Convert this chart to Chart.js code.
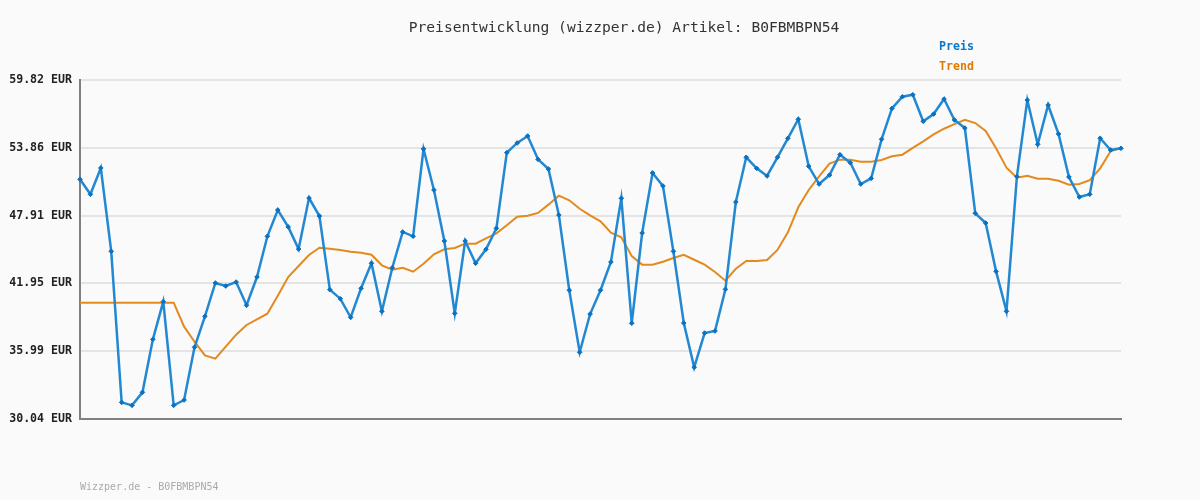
<!DOCTYPE html>
<html>
<head>
<meta charset="utf-8">
<script src="https://cdn.jsdelivr.net/npm/chart.js@4/dist/chart.umd.min.js"></script>
<style>
html,body{margin:0;padding:0;background:#fafafa;}
#wrap{width:1200px;height:500px;position:relative;}
</style>
</head>
<body>
<div id="wrap"><canvas id="c" width="1200" height="500"></canvas></div>
<script>
const titleText = "Preisentwicklung (wizzper.de) Artikel: B0FBMBPN54";
const footerText = "Wizzper.de - B0FBMBPN54";
const seriesNames = ["Preis", "Trend"];
const yTicks = [30.04, 35.99, 41.95, 47.91, 53.86, 59.82];

const preis = [
  51.10, 49.78, 52.09, 44.77, 31.50, 31.24, 32.38, 37.04, 40.35, 31.24,
  31.71, 36.34, 39.06, 41.99, 41.72, 42.07, 40.03, 42.51, 46.09, 48.40,
  46.91, 44.97, 49.45, 47.87, 41.40, 40.61, 38.97, 41.52, 43.72, 39.50,
  43.33, 46.47, 46.09, 53.76, 50.16, 45.68, 39.32, 45.68, 43.72, 44.95,
  46.79, 53.44, 54.29, 54.90, 52.85, 52.00, 47.96, 41.35, 35.90, 39.26,
  41.35, 43.83, 49.43, 38.45, 46.38, 51.65, 50.51, 44.77, 38.47, 34.58,
  37.59, 37.77, 41.43, 49.10, 53.03, 52.06, 51.39, 53.03, 54.70, 56.37,
  52.24, 50.68, 51.47, 53.26, 52.55, 50.68, 51.18, 54.61, 57.33, 58.35,
  58.53, 56.19, 56.83, 58.15, 56.31, 55.60, 48.11, 47.26, 43.01, 39.50,
  51.33, 58.06, 54.17, 57.62, 55.08, 51.30, 49.54, 49.78, 54.70, 53.67,
  53.82
];

const trend = [
  40.26, 40.26, 40.26, 40.26, 40.26, 40.26, 40.26, 40.26, 40.26, 40.26,
  38.15, 36.83, 35.63, 35.34, 36.39, 37.45, 38.30, 38.80, 39.29, 40.87,
  42.51, 43.48, 44.45, 45.09, 45.00, 44.89, 44.74, 44.65, 44.47, 43.54,
  43.16, 43.33, 42.98, 43.68, 44.51, 44.95, 45.06, 45.44, 45.44, 45.91,
  46.35, 47.06, 47.81, 47.90, 48.14, 48.87, 49.66, 49.25, 48.51, 47.93,
  47.40, 46.41, 46.00, 44.36, 43.60, 43.60, 43.86, 44.18, 44.47, 44.03,
  43.60, 42.95, 42.19, 43.24, 43.92, 43.92, 44.01, 44.89, 46.44, 48.64,
  50.16, 51.36, 52.47, 52.82, 52.82, 52.64, 52.64, 52.80, 53.12, 53.26,
  53.85, 54.43, 55.05, 55.54, 55.95, 56.33, 56.04, 55.34, 53.82, 52.12,
  51.24, 51.41, 51.15, 51.15, 50.97, 50.62, 50.68, 51.03, 52.06, 53.56,
  53.85
];

const categories = preis.map((_, i) => String(i + 1));

const MONO = "'DejaVu Sans Mono', 'Liberation Mono', monospace";
const BLUE = "#2388d2";
const BLUE_PT = "#0b72c2";
const ORANGE = "#e38a1e";

const deco = {
  id: 'deco',
  beforeDraw(chart) {
    const ctx = chart.ctx;
    ctx.save();
    ctx.fillStyle = '#fafafa';
    ctx.fillRect(0, 0, chart.width, chart.height);
    ctx.restore();
  },
  afterDraw(chart) {
    const ctx = chart.ctx;
    ctx.save();
    ctx.textBaseline = 'middle';
    ctx.textAlign = 'center';
    ctx.fillStyle = '#333333';
    ctx.font = "14.6px " + MONO;
    ctx.fillText(titleText, 624, 28);
    ctx.textAlign = 'left';
    ctx.font = "bold 11.6px " + MONO;
    ctx.fillStyle = '#0a78c8';
    ctx.fillText(seriesNames[0], 939, 47);
    ctx.fillStyle = '#de7a00';
    ctx.fillText(seriesNames[1], 939, 67);
    ctx.font = "10px " + MONO;
    ctx.fillStyle = '#aaaaaa';
    ctx.fillText(footerText, 80, 487);
    ctx.restore();
  }
};

new Chart(document.getElementById('c'), {
  type: 'line',
  data: {
    labels: categories,
    datasets: [
      {
        label: seriesNames[1],
        data: trend,
        borderColor: ORANGE,
        borderWidth: 2,
        pointRadius: 0,
        tension: 0,
        order: 2
      },
      {
        label: seriesNames[0],
        data: preis,
        borderColor: BLUE,
        borderWidth: 2.5,
        pointStyle: 'rectRot',
        pointRadius: 2.3,
        pointBackgroundColor: BLUE_PT,
        pointBorderColor: BLUE_PT,
        pointBorderWidth: 1,
        tension: 0,
        order: 1
      }
    ]
  },
  options: {
    responsive: false,
    animation: false,
    events: [],
    layout: { padding: { top: 80, right: 79, bottom: 81, left: 0 } },
    plugins: { legend: { display: false }, title: { display: false }, tooltip: { enabled: false } },
    scales: {
      x: {
        type: 'category',
        offset: false,
        ticks: { display: false },
        grid: { display: false, drawTicks: false },
        border: { display: true, color: '#808080', width: 2 },
        afterFit(axis) { axis.height = 0; }
      },
      y: {
        min: yTicks[0],
        max: yTicks[yTicks.length - 1],
        afterBuildTicks(axis) { axis.ticks = yTicks.map(v => ({ value: v })); },
        afterFit(axis) { axis.width = 80; },
        ticks: {
          padding: 8,
          color: '#222222',
          font: { family: MONO, size: 11.6, weight: 'bold' },
          callback: (v) => Number(v).toFixed(2) + ' EUR'
        },
        grid: { color: '#e4e4e4', lineWidth: 2, drawTicks: false },
        border: { display: true, color: '#808080', width: 2 }
      }
    }
  },
  plugins: [deco]
});
</script>
</body>
</html>
